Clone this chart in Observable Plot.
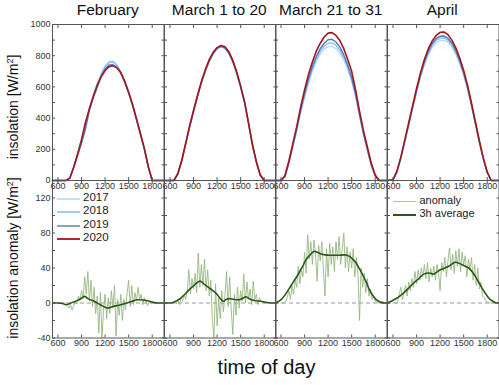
<!DOCTYPE html>
<html><head><meta charset="utf-8">
<script src="https://cdn.jsdelivr.net/npm/d3@7"></script>
<script src="https://cdn.jsdelivr.net/npm/@observablehq/plot@0.6"></script>
<style>
body{margin:0;background:#fff;font-family:"Liberation Sans",Arial,sans-serif;}
#root{position:relative;width:499px;height:385px;overflow:hidden;background:#fff;}
.abs{position:absolute;}
.title{position:absolute;top:1px;font-size:15.5px;color:#111;text-align:center;white-space:nowrap;}
.ylab{position:absolute;font-size:14px;color:#111;white-space:nowrap;transform:translate(-50%,-50%) rotate(-90deg);}
.leg{position:absolute;font-size:11.5px;color:#222;white-space:nowrap;}
.legline{position:absolute;height:0;}
</style></head>
<body><div id="root"></div>
<script>
// ---------- data ----------
const months = ["February", "March 1 to 20", "March 21 to 31", "April"];
const years = ["2017", "2018", "2019", "2020"];
const yearColors = ["#bcdcf6", "#8cc0f0", "#4f7bc4", "#a3161a"];
const legendYearColors = ["#c6e2f7", "#a2c9f0", "#8ca0c4", "#b0282a"];

const insTimes = [530,600,650,700,750,800,850,900,950,1000,1050,1100,1150,1200,1250,1300,1350,1400,1450,1500,1550,1600,1650,1700,1750,1800,1850,1900,1950];

const insFeb2017 = [0,0,0,0,18,88,175,270,375,465,548,622,685,735,762,768,742,700,640,568,488,398,302,205,90,0,0,0,0];
const insFeb2018 = [0,0,0,0,16,86,172,265,372,462,545,620,680,728,756,760,738,696,638,566,486,396,300,204,88,0,0,0,0];
const insFeb2019 = [0,0,0,0,14,82,160,240,330,450,530,598,670,715,740,742,725,688,630,560,480,385,295,200,86,0,0,0,0];
const insFeb2020 = [0,0,0,0,15,85,170,260,370,460,540,610,665,705,730,735,722,690,635,565,485,395,300,205,90,0,0,0,0];

const insMarA2017 = [0,0,0,42,128,236,346,446,540,630,705,770,818,848,860,852,820,765,690,600,500,366,228,118,34,0,0,0,0];
const insMarA2018 = [0,0,0,44,130,238,348,448,542,632,708,772,820,850,862,854,822,768,692,602,502,368,229,119,35,0,0,0,0];
const insMarA2019 = [0,0,0,40,125,232,340,440,536,626,700,765,812,845,858,848,815,760,686,596,498,364,226,116,33,0,0,0,0];
const insMarA2020 = [0,0,0,45,130,240,350,450,545,635,710,775,822,852,866,858,825,770,695,605,505,370,230,120,35,0,0,0,0];

const insMarB2017 = [0,0,22,108,212,318,432,532,624,700,762,810,842,858,860,846,816,770,710,636,536,412,296,193,96,28,0,0,0];
const insMarB2018 = [0,0,24,112,218,325,442,545,638,715,780,828,862,880,882,866,835,788,725,648,545,418,300,196,98,29,0,0,0];
const insMarB2019 = [0,0,25,115,222,330,450,555,650,730,795,845,880,902,905,888,855,805,740,660,555,425,305,200,100,30,0,0,0];
const insMarB2020 = [0,0,30,125,235,345,470,580,680,760,830,880,920,945,948,930,897,845,775,700,580,445,320,215,110,35,0,0,0];

const insApr2017 = [0,3,52,140,246,350,458,564,660,740,805,852,882,896,898,885,855,808,748,674,584,475,358,243,136,50,0,0,0];
const insApr2018 = [0,4,54,143,250,356,465,572,670,752,818,866,898,912,914,900,868,820,758,682,590,480,362,246,138,51,0,0,0];
const insApr2019 = [0,4,55,145,252,360,470,578,678,760,828,878,910,925,926,912,880,832,768,690,596,484,366,248,140,52,0,0,0];
const insApr2020 = [0,5,60,150,260,370,480,590,690,775,845,895,930,950,952,935,900,850,785,705,610,495,375,255,145,55,0,0,0];

const anomTimes = [600,620,640,660,680,700,720,740,760,780,800,820,840,860,880,900,920,940,960,980,1000,1020,1040,1060,1080,1100,1120,1140,1160,1180,1200,1220,1240,1260,1280,1300,1320,1340,1360,1380,1400,1420,1440,1460,1480,1500,1520,1540,1560,1580,1600,1620,1640,1660,1680,1700,1720,1740,1760,1780,1800,1820,1840,1860];

const anomFeb  = [0,0,0,0,0,-1,-3,-6,-2,-8,-3,2,-1,8,3,14,5,30,10,36,2,26,-4,18,-12,8,-34,12,-40,-8,10,-18,6,-12,14,-6,20,-38,4,-14,10,-20,4,-8,12,26,-4,20,-2,12,2,18,4,10,-2,6,2,-3,1,0,0,0,0,0];
const anomMarA = [0,0,0,1,-1,3,-2,6,2,9,4,14,38,10,28,16,34,12,57,18,44,20,50,14,38,8,26,-20,-40,22,-26,6,-18,14,-10,8,36,-4,30,-8,-36,10,-14,18,-6,14,2,33,0,24,4,16,-2,25,4,10,-2,6,2,1,0,0,0,0];
const anomMarB = [0,0,0,2,6,14,4,20,10,26,18,42,22,38,30,58,34,78,50,70,44,72,56,25,66,48,70,38,8,62,30,68,44,64,36,70,50,76,44,62,80,40,64,36,58,40,62,30,52,34,-20,40,18,34,12,28,8,16,4,8,2,1,0,0];
const anomApr  = [0,0,0,2,10,18,4,12,20,8,24,14,28,18,36,22,38,26,40,30,44,28,46,24,40,30,42,26,44,34,14,46,36,52,30,48,63,38,56,34,60,42,62,36,58,44,54,30,50,38,52,26,44,20,40,16,24,8,6,3,1,0,0,0];

const avgFebT  = [530,600,660,700,740,790,850,900,940,980,1060,1140,1230,1300,1400,1480,1545,1610,1680,1740,1800,1860,1950];
const avgFebV  = [0,0,-0.5,-2,-1,1,3,5.5,7.6,5,2,-2,-5.7,-4,-2,0,2,3.8,3.5,2.5,1.2,0,0];
const avgMarAT = [530,610,660,736,790,842,910,982,1050,1118,1203,1250,1280,1320,1352,1420,1479,1530,1564,1610,1649,1700,1755,1820,1883,1950];
const avgMarAV = [0,0,1.5,5.7,10,15,20.5,25,20.5,16,9.5,4,2,4.2,5,4,3.8,5.5,7.2,5,3.4,2.5,2,0.8,0,0];
const avgMarBT = [530,602,650,708,760,814,870,920,970,1027,1111,1160,1218,1270,1324,1409,1472,1515,1557,1600,1642,1690,1727,1770,1812,1870,1918,1950];
const avgMarBV = [0,3.8,9,17,24.5,32,41,49.5,55,59,56,55,54.5,54.5,54.5,55,53.3,50,45.7,39,32,23,15,8.5,3.8,1,0,0];
const avgAprT  = [530,590,651,700,758,810,864,930,991,1055,1118,1160,1203,1260,1310,1350,1394,1440,1479,1520,1564,1610,1649,1690,1734,1780,1819,1870,1925,1950];
const avgAprV  = [0,2.5,5.7,9,13.3,18,22.9,28,33,34.3,33,35.5,38,40,42,44.5,46.5,45.5,43.8,42,40,35.5,30.5,24,17,10.5,5.7,2,0,0];

const xTicks = [600, 900, 1200, 1500, 1800];
const topYLabels = [0, 200, 400, 600, 800, 1000];
const topYMinor = [0,100,200,300,400,500,600,700,800,900,1000];
const botYLabels = [-40, 0, 40, 80, 120];
const botYMinor = [-40,-20,0,20,40,60,80,100,120,140];

// ---------- assemble ----------
const insByPanel = [
  [insFeb2017, insFeb2018, insFeb2019, insFeb2020],
  [insMarA2017, insMarA2018, insMarA2019, insMarA2020],
  [insMarB2017, insMarB2018, insMarB2019, insMarB2020],
  [insApr2017, insApr2018, insApr2019, insApr2020]
];
const anomByPanel = [anomFeb, anomMarA, anomMarB, anomApr];
const avgByPanel = [[avgFebT, avgFebV], [avgMarAT, avgMarAV], [avgMarBT, avgMarBV], [avgAprT, avgAprV]];

const colLeft = [52, 163.5, 275, 386.5];
const colW = [111.5, 111.5, 111.5, 111.5];
const topRow = {top: 24, h: 156};
const botRow = {top: 180, h: 157.5};
const mL = 30, mR = 3, mT = 6, mB = 16;
const xDomain = [530, 1950];
const axisColor = "#555";
const plain = d => String(d);

const root = document.getElementById("root");

function makePanel(i, row, yDomain, yLabels, yMinor, dataMarks) {
  const showY = i === 0;
  const marks = [
    ...dataMarks,
    Plot.frame({stroke: axisColor, strokeWidth: 1}),
    Plot.axisX(xTicks, {anchor: "bottom", tickSize: -3, tickFormat: () => "", stroke: axisColor, label: null}),
    Plot.axisX(xTicks, {anchor: "top", tickSize: -3, tickFormat: () => "", stroke: axisColor, label: null}),
    Plot.axisX(xTicks, {anchor: "bottom", tickSize: 0, tickPadding: 2, tickFormat: plain, fill: "#333", fontSize: 9, label: null}),
    Plot.axisY(yMinor, {anchor: "left", tickSize: -3, tickFormat: () => "", stroke: axisColor, label: null}),
    Plot.axisY(yMinor, {anchor: "right", tickSize: -3, tickFormat: () => "", stroke: axisColor, label: null})
  ];
  if (showY) marks.push(Plot.axisY(yLabels, {anchor: "left", tickSize: 0, tickPadding: 2, tickFormat: plain, fill: "#333", fontSize: 9, label: null}));
  const svg = Plot.plot({
    width: mL + colW[i] + mR,
    height: mT + row.h + mB,
    marginLeft: mL, marginRight: mR, marginTop: mT, marginBottom: mB,
    x: {domain: xDomain, label: null},
    y: {domain: yDomain, label: null},
    style: {background: "transparent", overflow: "visible", fontFamily: "'Liberation Sans', Arial, sans-serif", fontSize: "9px", color: "#333"},
    marks
  });
  svg.style.position = "absolute";
  svg.style.left = (colLeft[i] - mL) + "px";
  svg.style.top = (row.top - mT) + "px";
  root.appendChild(svg);
}

// top row
for (let i = 0; i < 4; i++) {
  const lines = insByPanel[i].map((vals, k) =>
    Plot.line(insTimes.map((t, j) => ({t, v: vals[j]})), {x: "t", y: "v", stroke: yearColors[k], strokeWidth: k === 3 ? 1.6 : 1.4})
  );
  makePanel(i, topRow, [0, 1000], topYLabels, topYMinor, lines);
}
// bottom row
for (let i = 0; i < 4; i++) {
  const anom = anomTimes.map((t, j) => ({t, v: anomByPanel[i][j]}));
  const [at, av] = avgByPanel[i];
  const avg = at.map((t, j) => ({t, v: av[j]}));
  const marks = [
    Plot.ruleY([0], {stroke: "#999", strokeWidth: 1.2, strokeDasharray: "4,3"}),
    Plot.line(anom, {x: "t", y: "v", stroke: "#93b47e", strokeOpacity: 0.85, strokeWidth: 1}),
    Plot.line(avg, {x: "t", y: "v", stroke: "#2b5716", strokeWidth: 1.6, curve: "monotone-x"})
  ];
  makePanel(i, botRow, [-40, 140], botYLabels, botYMinor, marks);
}

// titles
months.forEach((m, i) => {
  const d = document.createElement("div");
  d.className = "title";
  d.textContent = m;
  d.style.left = colLeft[i] + "px";
  d.style.width = colW[i] + "px";
  root.appendChild(d);
});

// y labels
function ylab(html, x, y) {
  const d = document.createElement("div");
  d.className = "ylab";
  d.innerHTML = html;
  d.style.left = x + "px";
  d.style.top = y + "px";
  root.appendChild(d);
}
ylab('insolation [W/m<sup style="font-size:9px">2</sup>]', 13, 107);
ylab('insolation anomaly [W/m<sup style="font-size:9px">2</sup>]', 13, 258);

// x label
const xl = document.createElement("div");
xl.className = "abs";
xl.textContent = "time of day";
xl.style.cssText = "position:absolute;left:0;width:533px;top:356px;text-align:center;font-size:20px;color:#111;";
root.appendChild(xl);

// legends
function legendEntry(label, color, width, x1, x2, y, tx, fs) {
  const l = document.createElement("div");
  l.className = "legline";
  l.style.cssText = `position:absolute;left:${x1}px;width:${x2 - x1}px;top:${y}px;height:${width}px;background:${color};`;
  root.appendChild(l);
  const t = document.createElement("div");
  t.className = "leg";
  t.textContent = label;
  t.style.left = tx + "px";
  t.style.top = (y - fs * 0.6) + "px";
  t.style.fontSize = fs + "px";
  root.appendChild(t);
}
years.forEach((yr, k) => legendEntry(yr, legendYearColors[k], 2, 57, 80, [198, 211, 225, 238][k], 83, 11.5));
legendEntry("anomaly", "#a9c496", 1, 393, 416, 201, 419.5, 11);
legendEntry("3h average", "#2b5716", 2, 393, 416, 214, 419.5, 11);
</script>
</body></html>
